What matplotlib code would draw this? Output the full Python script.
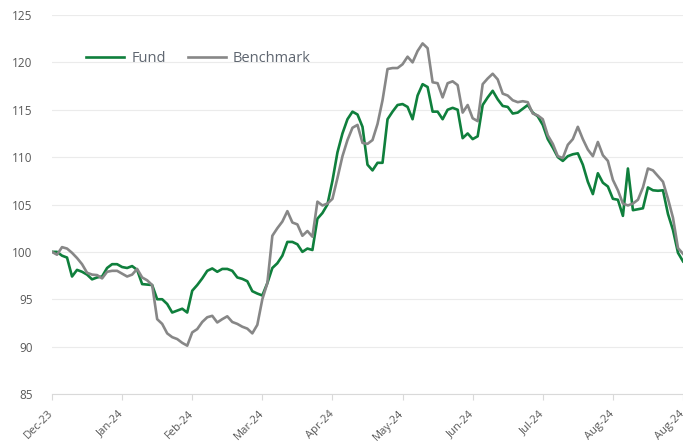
import matplotlib
matplotlib.use('Agg')
import matplotlib.pyplot as plt
import numpy as np

# index values (roughly 7 points between month ticks)
fund = [100.0, 100.0, 99.6, 99.4, 97.4, 98.1, 97.9, 97.6, 97.1, 97.3,
        97.4, 98.3, 98.7, 98.7, 98.4, 98.3, 98.5, 98.1, 96.6, 96.55,
        96.5, 95.0, 95.0, 94.5, 93.6, 93.8, 94.0, 93.6, 95.9, 96.5,
        97.2, 98.0, 98.25, 97.9, 98.2, 98.2, 98.0, 97.3, 97.15, 96.9,
        95.85, 95.6, 95.4, 96.7, 98.3, 98.8, 99.6, 101.05, 101.05, 100.8,
        100.0, 100.35, 100.2, 103.5, 104.1, 105.0, 107.5, 110.5, 112.5, 114.0,
        114.8, 114.5, 113.2, 109.2, 108.6, 109.4, 109.4, 114.0, 114.8, 115.5,
        115.6, 115.3, 114.0, 116.5, 117.7, 117.4, 114.8, 114.8, 114.0, 115.0,
        115.2, 115.0, 112.0, 112.5, 111.9, 112.2, 115.5, 116.3, 117.0, 116.1,
        115.4, 115.3, 114.6, 114.7, 115.1, 115.5, 114.7, 114.3, 113.4, 111.9,
        111.0, 110.0, 109.6, 110.1, 110.3, 110.4, 109.2, 107.4, 106.1, 108.3,
        107.3, 106.9, 105.6, 105.5, 103.8, 108.8, 104.4, 104.5, 104.6, 106.8,
        106.5, 106.45, 106.5, 104.0, 102.3, 99.9, 99.0]
benchmark = [100.0, 99.7, 100.5, 100.35, 99.9, 99.35, 98.7, 97.8, 97.6, 97.55,
             97.2, 97.9, 98.0, 98.0, 97.7, 97.4, 97.6, 98.2, 97.3, 97.0,
             96.5, 92.9, 92.4, 91.4, 91.0, 90.8, 90.4, 90.1, 91.5, 91.85,
             92.6, 93.1, 93.25, 92.55, 92.9, 93.2, 92.6, 92.4, 92.1, 91.9,
             91.4, 92.3, 95.0, 96.7, 101.7, 102.5, 103.2, 104.3, 103.1, 102.9,
             101.7, 102.2, 101.6, 105.3, 104.9, 105.1, 105.6, 107.8, 110.1, 111.8,
             113.1, 113.4, 111.5, 111.4, 111.8, 113.5, 116.0, 119.3, 119.4, 119.4,
             119.8, 120.6, 120.0, 121.2, 122.0, 121.5, 117.9, 117.8, 116.3, 117.8,
             118.0, 117.6, 114.7, 115.5, 114.1, 113.8, 117.7, 118.3, 118.8, 118.2,
             116.7, 116.5, 116.0, 115.8, 115.9, 115.8, 114.6, 114.4, 114.0, 112.3,
             111.4, 110.1, 109.9, 111.3, 111.9, 113.2, 111.9, 110.8, 110.1, 111.6,
             110.2, 109.6, 107.6, 106.5, 105.1, 104.9, 105.1, 105.5, 106.8, 108.8,
             108.6, 108.0, 107.4, 105.6, 103.6, 100.4, 99.8]
tick_labels = ['Dec-23', 'Jan-24', 'Feb-24', 'Mar-24', 'Apr-24', 'May-24',
               'Jun-24', 'Jul-24', 'Aug-24', 'Aug-24']

plt.rcParams['font.family'] = ['Open Sans', 'DejaVu Sans']

x = np.arange(len(fund))
fig = plt.figure(figsize=(6.83, 4.45), dpi=100)
ax = fig.add_axes([52 / 683, 1 - 394 / 445, 631 / 683, 379 / 445])

ax.plot(x, fund, color='#0f7f3c', linewidth=1.9, label='Fund')
ax.plot(x, benchmark, color='#878787', linewidth=1.9, label='Benchmark')

ax.set_xlim(0, len(fund) - 1)
ax.set_ylim(85, 125)
ax.set_yticks(range(85, 126, 5))
ax.set_xticks(np.arange(0, len(fund), 14))
ax.set_xticklabels(tick_labels, rotation=45, ha='right', va='center',
                   rotation_mode='anchor')

ax.yaxis.grid(True, color='#ebebeb', linewidth=0.8)
ax.set_axisbelow(True)
for s in ['top', 'right', 'left']:
    ax.spines[s].set_visible(False)
ax.spines['bottom'].set_color('#d9d9d9')
ax.tick_params(axis='y', length=0, pad=14, labelsize=8.5, labelcolor='#595959')
ax.tick_params(axis='x', length=4, color='#d9d9d9', pad=9, labelsize=8,
               labelcolor='#595959')

leg = ax.legend(loc='center left', bbox_to_anchor=(0.054, 0.884), ncol=2,
                frameon=False, fontsize=10.5, handlelength=2.6,
                handletextpad=0.5, columnspacing=1.5, borderpad=0,
                borderaxespad=0)
for t in leg.get_texts():
    t.set_color('#5f6670')

fig.savefig('out.png', dpi=100)
